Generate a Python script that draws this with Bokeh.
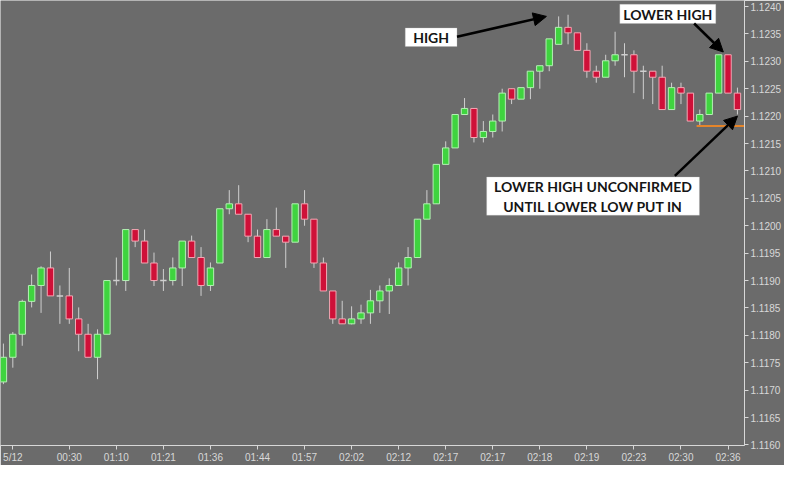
from bokeh.plotting import figure
from bokeh.models import (FixedTicker, Range1d, BoxAnnotation, Label, Arrow,
                          NormalHead, NumeralTickFormatter)
from bokeh.embed import file_html
from bokeh.resources import INLINE

# ---- data ----
opens = [1.11715, 1.11760, 1.11802, 1.11862, 1.11891, 1.11923, 1.11872, 1.11872, 1.11830, 1.11802,
         1.11760, 1.11802, 1.11900, 1.11900, 1.11993, 1.11972, 1.11932, 1.11900, 1.11900, 1.11923,
         1.11972, 1.11942, 1.11891, 1.11932, 1.12031, 1.12040, 1.12021, 1.11981, 1.11942, 1.11993,
         1.11981, 1.11970, 1.12040, 1.12012, 1.11932, 1.11881, 1.11830, 1.11821, 1.11830, 1.11841,
         1.11863, 1.11881, 1.11891, 1.11923, 1.11942, 1.12012, 1.12040, 1.12112, 1.12142, 1.12203,
         1.12214, 1.12161, 1.12172, 1.12191, 1.12250, 1.12231, 1.12252, 1.12282, 1.12292, 1.12331,
         1.12362, 1.12352, 1.12320, 1.12282, 1.12271, 1.12301, 1.12312, 1.12312, 1.12282, 1.12282,
         1.12271, 1.12212, 1.12252, 1.12242, 1.12191, 1.12203, 1.12242, 1.12312, 1.12242]
highs = [1.11785, 1.11806, 1.11865, 1.11911, 1.11926, 1.11953, 1.11891, 1.11923, 1.11851, 1.11821,
         1.11811, 1.11900, 1.11942, 1.11993, 1.11993, 1.11993, 1.11951, 1.11921, 1.11942, 1.11972,
         1.11982, 1.11961, 1.11933, 1.12031, 1.12065, 1.12074, 1.12021, 1.11993, 1.12012, 1.12033,
         1.11981, 1.12040, 1.12065, 1.12012, 1.11942, 1.11881, 1.11863, 1.11853, 1.11856, 1.11883,
         1.11891, 1.11904, 1.11933, 1.11961, 1.12012, 1.12065, 1.12112, 1.12154, 1.12203, 1.12233,
         1.12214, 1.12191, 1.12203, 1.12250, 1.12250, 1.12252, 1.12282, 1.12292, 1.12341, 1.12382,
         1.12385, 1.12352, 1.12333, 1.12292, 1.12312, 1.12354, 1.12333, 1.12320, 1.12292, 1.12282,
         1.12292, 1.12261, 1.12261, 1.12242, 1.12212, 1.12242, 1.12312, 1.12312, 1.12252]
lows = [1.11711, 1.11741, 1.11781, 1.11851, 1.11841, 1.11872, 1.11821, 1.11821, 1.11771, 1.11760,
        1.11720, 1.11802, 1.11891, 1.11881, 1.11961, 1.11932, 1.11890, 1.11881, 1.11891, 1.11890,
        1.11942, 1.11872, 1.11881, 1.11932, 1.12021, 1.12021, 1.11970, 1.11942, 1.11942, 1.11981,
        1.11923, 1.11970, 1.12000, 1.11923, 1.11881, 1.11821, 1.11821, 1.11820, 1.11821, 1.11821,
        1.11841, 1.11839, 1.11891, 1.11891, 1.11942, 1.12012, 1.12040, 1.12112, 1.12142, 1.12203,
        1.12152, 1.12152, 1.12161, 1.12172, 1.12222, 1.12231, 1.12231, 1.12250, 1.12282, 1.12331,
        1.12331, 1.12320, 1.12270, 1.12261, 1.12271, 1.12292, 1.12271, 1.12242, 1.12231, 1.12222,
        1.12212, 1.12212, 1.12222, 1.12191, 1.12182, 1.12203, 1.12242, 1.12242, 1.12203]
closes = [1.11760, 1.11802, 1.11862, 1.11891, 1.11923, 1.11872, 1.11872, 1.11830, 1.11802, 1.11760,
          1.11802, 1.11900, 1.11900, 1.11993, 1.11972, 1.11932, 1.11900, 1.11900, 1.11923, 1.11972,
          1.11942, 1.11891, 1.11923, 1.12031, 1.12040, 1.12021, 1.11981, 1.11942, 1.11993, 1.11981,
          1.11970, 1.12040, 1.12012, 1.11932, 1.11881, 1.11830, 1.11821, 1.11830, 1.11841, 1.11863,
          1.11881, 1.11891, 1.11923, 1.11942, 1.12012, 1.12040, 1.12112, 1.12142, 1.12203, 1.12214,
          1.12161, 1.12172, 1.12191, 1.12242, 1.12231, 1.12252, 1.12282, 1.12292, 1.12341, 1.12362,
          1.12352, 1.12320, 1.12282, 1.12271, 1.12301, 1.12312, 1.12312, 1.12282, 1.12282, 1.12271,
          1.12212, 1.12252, 1.12242, 1.12191, 1.12203, 1.12242, 1.12312, 1.12242, 1.12212]

time_tick_index = [1, 7, 12, 17, 22, 27, 32, 37, 42, 47, 52, 57, 62, 67, 72, 77]
time_tick_labels = ["5/12", "00:30", "01:10", "01:21", "01:36", "01:44", "01:57", "02:02",
                    "02:12", "02:17", "02:17", "02:18", "02:19", "02:23", "02:30", "02:36"]
price_ticks = [1.1160, 1.1165, 1.1170, 1.1175, 1.1180, 1.1185, 1.1190, 1.1195, 1.1200,
               1.1205, 1.1210, 1.1215, 1.1220, 1.1225, 1.1230, 1.1235, 1.1240]
support_candle = 74  # candle whose low is marked by the orange line

# ---- styles ----
BG = "#6b6b6b"
AX = "#d8d8d8"
GREEN = "#3fd43f"
GREEN_EDGE = "#b4f0b4"
RED = "#cf1038"
RED_EDGE = "#f2a8b4"
WICK = "#cfcfcf"
BW = 0.68

idx = list(range(len(opens)))
up = [i for i in idx if closes[i] > opens[i]]
dn = [i for i in idx if closes[i] < opens[i]]
dj = [i for i in idx if closes[i] == opens[i]]

p = figure(width=784, height=465, output_backend="svg", toolbar_location=None,
           x_range=Range1d(-0.31, 78.75), y_range=Range1d(1.11599, 1.12411),
           y_axis_location="right", background_fill_color=BG, border_fill_color=BG,
           outline_line_color=None, min_border_left=0, min_border_top=0,
           min_border_right=0, min_border_bottom=0)
p.grid.visible = False

# wicks
p.segment(x0=idx, y0=highs, x1=idx, y1=lows, line_color=WICK, line_width=1)
# bodies
p.vbar(x=up, width=BW, bottom=[opens[i] for i in up], top=[closes[i] for i in up],
       fill_color=GREEN, line_color=GREEN_EDGE, line_width=1)
p.vbar(x=dn, width=BW, bottom=[closes[i] for i in dn], top=[opens[i] for i in dn],
       fill_color=RED, line_color=RED_EDGE, line_width=1)
# dojis
p.segment(x0=[i - BW / 2 for i in dj], y0=[opens[i] for i in dj],
          x1=[i + BW / 2 for i in dj], y1=[opens[i] for i in dj],
          line_color=WICK, line_width=1.5)

# orange support line at the low of the marked candle
p.segment(x0=[support_candle - BW / 2], y0=[lows[support_candle]],
          x1=[p.x_range.end], y1=[lows[support_candle]],
          line_color="#e5852a", line_width=2)

# axes
xa = p.xaxis[0]
xa.ticker = FixedTicker(ticks=time_tick_index)
xa.major_label_overrides = {t: s for t, s in zip(time_tick_index, time_tick_labels)}
ya = p.yaxis[0]
ya.ticker = FixedTicker(ticks=price_ticks)
ya.formatter = NumeralTickFormatter(format="0.0000")
for ax in (xa, ya):
    ax.axis_line_color = AX
    ax.major_tick_line_color = AX
    ax.minor_tick_line_color = None
    ax.major_tick_out = 4
    ax.major_tick_in = 0
    ax.major_label_text_color = AX
    ax.major_label_text_font = "Liberation Sans"
    ax.major_label_text_font_size = "10px"
    ax.major_label_standoff = 2
    ax.axis_label_standoff = 0

# annotation boxes
def box(l, r, t, b):
    p.add_layout(BoxAnnotation(left=l, right=r, top=t, bottom=b, fill_color="white",
                               fill_alpha=1, line_color="#b0b0b0", line_width=1))

def txt(x, y, s):
    p.add_layout(Label(x=x, y=y, text=s, text_align="center", text_baseline="middle",
                       text_font="Lato", text_font_style="bold", text_font_size="14px",
                       text_color="#151515"))

def arrow(x0, y0, x1, y1):
    p.add_layout(Arrow(end=NormalHead(size=13, fill_color="black", line_color="black"),
                       x_start=x0, y_start=y0, x_end=x1, y_end=y1,
                       line_color="black", line_width=2.5))

box(42.7, 48.2, 1.12361, 1.12327)
txt(45.45, 1.12344, "HIGH")
arrow(48.2, 1.12345, 57.7, 1.12382)

box(65.5, 75.7, 1.12404, 1.12369)
txt(70.6, 1.12386, "LOWER HIGH")
arrow(73.4, 1.12369, 76.5, 1.12317)

box(51.35, 73.96, 1.12089, 1.12019)
txt(62.65, 1.12071, "LOWER HIGH UNCONFIRMED")
txt(62.65, 1.12036, "UNTIL LOWER LOW PUT IN")
arrow(71.35, 1.12091, 78.0, 1.12200)

open("out.html", "w").write(file_html(p, INLINE))
